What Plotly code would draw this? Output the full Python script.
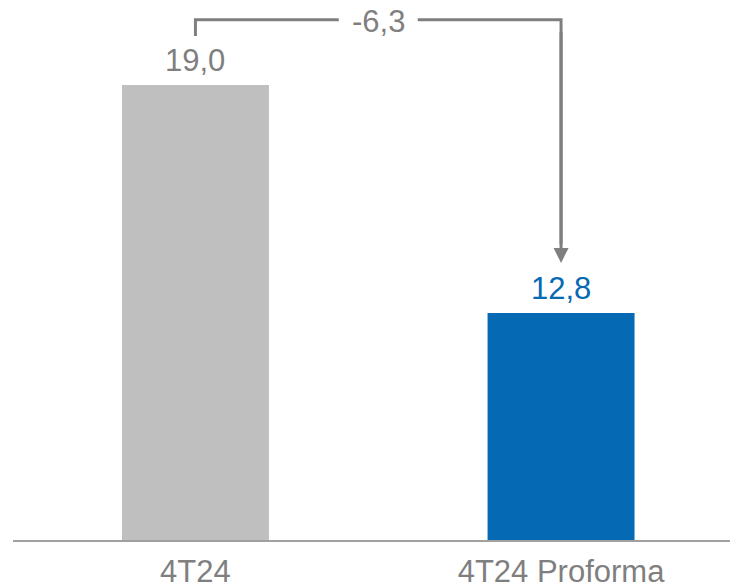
import plotly.graph_objects as go

# ---- data ----
categories = ["4T24", "4T24 Proforma"]
values = [19.0, 12.8]
change_label = "-6,3"

# ---- styles ----
bar_colors = ["#BFBFBF", "#0569B3"]
label_colors = ["#7F7F7F", "#0569B3"]
gray = "#7F7F7F"
font_family = "Liberation Sans, Arial, sans-serif"
font_size = 31

# page has an 8px body margin, so plot area spans page y 8..540
y_min, y_max = 6.63, 21.09

fig = go.Figure(
    go.Bar(
        x=categories,
        y=values,
        marker=dict(color=bar_colors, line=dict(width=0)),
        width=0.402,
        hoverinfo="skip",
    )
)

# value labels
for cat, v, c in zip(categories, values, label_colors):
    fig.add_annotation(
        x=cat, y=v, text=f"{v:.1f}".replace(".", ","),
        showarrow=False, yanchor="bottom", yshift=5,
        font=dict(size=font_size, color=c, family=font_family),
    )

# connector between bars (split around the change label)
y_top = max(values) + 1.77
y_left = values[0] + 1.33
y_tip = values[1] + 1.36
gap = 0.108
fig.add_shape(
    type="path",
    path=f"M 0,{y_left} L 0,{y_top} L {0.5 - gap},{y_top}",
    xref="x", yref="y",
    line=dict(color=gray, width=3),
)
fig.add_shape(
    type="path",
    path=f"M {0.5 + gap},{y_top} L 1,{y_top} L 1,{y_tip + 0.5}",
    xref="x", yref="y",
    line=dict(color=gray, width=3),
)
fig.add_annotation(
    x=1, y=y_tip, ax=1, ay=y_top - 0.3, axref="x", ayref="y", xref="x", yref="y",
    text="", showarrow=True, arrowhead=2, arrowwidth=3, arrowsize=1, arrowcolor=gray,
)
fig.add_annotation(
    x=0.5, y=y_top, xref="x", yref="y", text=change_label, showarrow=False,
    yanchor="middle", borderpad=0, yshift=-2,
    font=dict(size=font_size, color=gray, family=font_family),
)

fig.update_layout(
    width=738, height=586,
    margin=dict(l=5, r=8, t=0, b=54),
    plot_bgcolor="white", paper_bgcolor="white",
    showlegend=False,
    font=dict(family=font_family, size=font_size, color=gray),
    xaxis=dict(
        range=[-0.499, 1.484], showgrid=False, zeroline=False,
        showline=True, linecolor="#A0A0A0", linewidth=2,
        ticks="", automargin=False, ticklabelstandoff=3,
        tickfont=dict(size=font_size, color=gray, family=font_family),
    ),
    yaxis=dict(
        range=[y_min, y_max], visible=False, showgrid=False, zeroline=False,
        automargin=False,
    ),
)

fig.write_html("out.html")
